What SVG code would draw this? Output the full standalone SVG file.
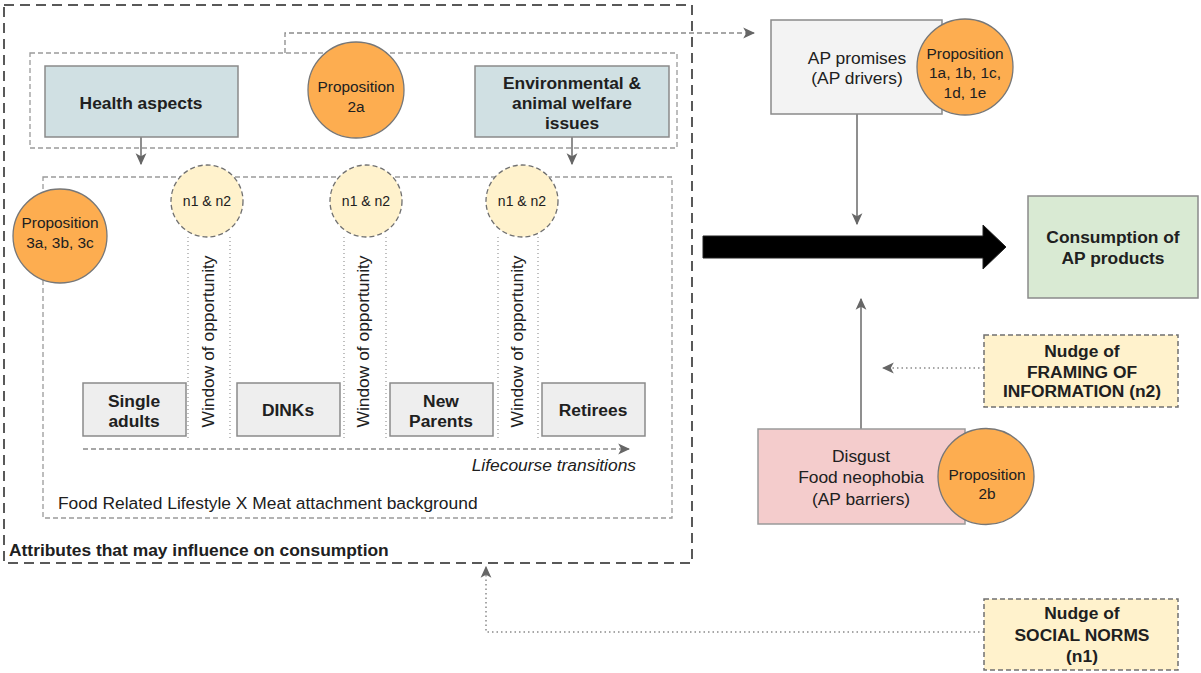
<svg xmlns="http://www.w3.org/2000/svg" width="1201" height="673" viewBox="0 0 1201 673">
  <style>
    text { font-family: "Liberation Sans", Arial, sans-serif; font-size: 17.4px; fill: #202020; }
    .b { font-weight: bold; }
    .it { font-style: italic; }
    .prop-t { font-size: 15.4px; }
    .nn-t { font-size: 14px; }
    .mid { text-anchor: middle; }
    .outer { fill: none; stroke: #595959; stroke-width: 2; stroke-dasharray: 10 6; }
    .group { fill: none; stroke: #9a9a9a; stroke-width: 1.3; stroke-dasharray: 5 3; }
    .topic { fill: #d0e0e3; stroke: #8a8a8a; stroke-width: 1.5; }
    .stage { fill: #eeeeee; stroke: #8a8a8a; stroke-width: 1.5; }
    .prop { fill: #fdad50; stroke: #777777; stroke-width: 1.3; }
    .nn { fill: #fff2cc; stroke: #707070; stroke-width: 1.3; stroke-dasharray: 5 3; }
    .nudge { fill: #fff2cc; stroke: #707070; stroke-width: 1.5; stroke-dasharray: 5 3; }
    .window { fill: none; stroke: #a5a5a5; stroke-width: 1.4; stroke-dasharray: 1 3; }
    .solid { fill: none; stroke: #6a6a6a; stroke-width: 1.5; }
    .dash { fill: none; stroke: #8a8a8a; stroke-width: 1.3; stroke-dasharray: 5 3; }
    .dot { fill: none; stroke: #8a8a8a; stroke-width: 1.5; stroke-dasharray: 1.5 3; }
  </style>
  <defs>
    <marker id="head" markerUnits="userSpaceOnUse" markerWidth="12" markerHeight="12" refX="9" refY="5" orient="auto" viewBox="0 0 10 10">
      <path d="M0,0.5 L10,5 L0,9.5 L2.5,5 z" fill="#666666"/>
    </marker>
  </defs>

  <!-- grouping frames -->
  <g id="attributes-frame">
    <rect class="outer" x="4" y="5" width="688" height="558"/>
    <text class="b" x="9" y="556">Attributes that may influence on consumption</text>
  </g>
  <g id="drivers-frame">
    <rect class="group" x="30" y="53" width="647" height="95"/>
  </g>
  <g id="lifestyle-frame">
    <rect class="group" x="43" y="177" width="629" height="341"/>
    <text x="58" y="509">Food Related Lifestyle X Meat attachment background</text>
  </g>

  <!-- connectors -->
  <g id="connectors">
    <path class="dash" d="M285,53 V33 H754" marker-end="url(#head)"/>
    <path class="solid" d="M141,137 V164" marker-end="url(#head)"/>
    <path class="solid" d="M572,137 V164" marker-end="url(#head)"/>
    <path class="solid" d="M857,114 V224" marker-end="url(#head)"/>
    <path class="solid" d="M861,429 V299" marker-end="url(#head)"/>
    <path class="dot" d="M984,368 H883" marker-end="url(#head)"/>
    <path class="dot" d="M984,632 H486 V567" marker-end="url(#head)"/>
    <path class="dash" d="M83,449 H629" marker-end="url(#head)"/>
    <polygon points="703,236 983,236 983,225 1006,247 983,269 983,258 703,258" fill="#000000" stroke="#222222" stroke-width="1"/>
  </g>

  <!-- windows of opportunity between life stages -->
  <g id="window-1">
    <line class="window" x1="188" y1="237" x2="188" y2="438"/>
    <line class="window" x1="230" y1="237" x2="230" y2="438"/>
    <text class="mid" transform="translate(213.5,341.5) rotate(-90)">Window of opportunity</text>
  </g>
  <g id="window-2">
    <line class="window" x1="344" y1="237" x2="344" y2="438"/>
    <line class="window" x1="386" y1="237" x2="386" y2="438"/>
    <text class="mid" transform="translate(369,341.5) rotate(-90)">Window of opportunity</text>
  </g>
  <g id="window-3">
    <line class="window" x1="498" y1="237" x2="498" y2="438"/>
    <line class="window" x1="538" y1="237" x2="538" y2="438"/>
    <text class="mid" transform="translate(523,341.5) rotate(-90)">Window of opportunity</text>
  </g>

  <g id="lifecourse-label">
    <text class="it" x="636" y="471" text-anchor="end">Lifecourse transitions</text>
  </g>

  <!-- topic boxes -->
  <g id="health-aspects">
    <rect class="topic" x="45" y="66" width="193" height="71"/>
    <text class="b mid" x="141" y="109">Health aspects</text>
  </g>
  <g id="environmental-issues">
    <rect class="topic" x="475" y="66" width="194" height="71"/>
    <text class="b mid" x="572" y="89">Environmental &amp;</text>
    <text class="b mid" x="572" y="109">animal welfare</text>
    <text class="b mid" x="572" y="129">issues</text>
  </g>
  <g id="proposition-2a">
    <circle class="prop" cx="356" cy="90" r="48"/>
    <text class="prop-t mid" x="356" y="92">Proposition</text>
    <text class="prop-t mid" x="356" y="112">2a</text>
  </g>
  <g id="proposition-3">
    <circle class="prop" cx="60" cy="236" r="47"/>
    <text class="prop-t mid" x="60" y="228">Proposition</text>
    <text class="prop-t mid" x="60" y="248">3a, 3b, 3c</text>
  </g>

  <!-- nudge markers -->
  <g id="nudge-1">
    <circle class="nn" cx="207" cy="201" r="36"/>
    <text class="nn-t mid" x="207" y="206">n1 &amp; n2</text>
  </g>
  <g id="nudge-2">
    <circle class="nn" cx="366" cy="201" r="36"/>
    <text class="nn-t mid" x="366" y="206">n1 &amp; n2</text>
  </g>
  <g id="nudge-3">
    <circle class="nn" cx="522" cy="201" r="36"/>
    <text class="nn-t mid" x="522" y="206">n1 &amp; n2</text>
  </g>

  <!-- life stages -->
  <g id="single-adults">
    <rect class="stage" x="83" y="383" width="103" height="53"/>
    <text class="b mid" x="134" y="407">Single</text>
    <text class="b mid" x="134" y="427">adults</text>
  </g>
  <g id="dinks">
    <rect class="stage" x="237" y="383" width="103" height="53"/>
    <text class="b mid" x="288" y="416">DINKs</text>
  </g>
  <g id="new-parents">
    <rect class="stage" x="390" y="383" width="103" height="53"/>
    <text class="b mid" x="441" y="407">New</text>
    <text class="b mid" x="441" y="427">Parents</text>
  </g>
  <g id="retirees">
    <rect class="stage" x="542" y="383" width="103" height="53"/>
    <text class="b mid" x="593" y="416">Retirees</text>
  </g>

  <!-- right side -->
  <g id="ap-promises">
    <rect x="771" y="20" width="171" height="94" fill="#f3f3f3" stroke="#8a8a8a" stroke-width="1.5"/>
    <text class="mid" x="857" y="64">AP promises</text>
    <text class="mid" x="857" y="84">(AP drivers)</text>
  </g>
  <g id="proposition-1">
    <circle class="prop" cx="965" cy="67" r="48"/>
    <text class="prop-t mid" x="965" y="59">Proposition</text>
    <text class="prop-t mid" x="965" y="78">1a, 1b, 1c,</text>
    <text class="prop-t mid" x="965" y="98">1d, 1e</text>
  </g>
  <g id="consumption">
    <rect x="1028" y="196" width="170" height="102" fill="#d9ead3" stroke="#8a8a8a" stroke-width="1.5"/>
    <text class="b mid" x="1113" y="243">Consumption of</text>
    <text class="b mid" x="1113" y="264">AP products</text>
  </g>
  <g id="nudge-framing">
    <rect class="nudge" x="984" y="335" width="194" height="72"/>
    <text class="b mid" x="1082" y="357">Nudge of</text>
    <text class="b mid" x="1082" y="378">FRAMING OF</text>
    <text class="b mid" x="1082" y="397">INFORMATION (n2)</text>
  </g>
  <g id="ap-barriers">
    <rect x="758" y="429" width="207" height="95" fill="#f4cccc" stroke="#9a9a9a" stroke-width="1.5"/>
    <text class="mid" x="861" y="462">Disgust</text>
    <text class="mid" x="861" y="483">Food neophobia</text>
    <text class="mid" x="861" y="505">(AP barriers)</text>
  </g>
  <g id="proposition-2b">
    <circle class="prop" cx="986" cy="476.5" r="48"/>
    <text class="prop-t mid" x="987" y="480">Proposition</text>
    <text class="prop-t mid" x="987" y="499">2b</text>
  </g>
  <g id="nudge-social">
    <rect class="nudge" x="984" y="599" width="194" height="71"/>
    <text class="b mid" x="1082" y="619">Nudge of</text>
    <text class="b mid" x="1082" y="641">SOCIAL NORMS</text>
    <text class="b mid" x="1082" y="662">(n1)</text>
  </g>
</svg>
